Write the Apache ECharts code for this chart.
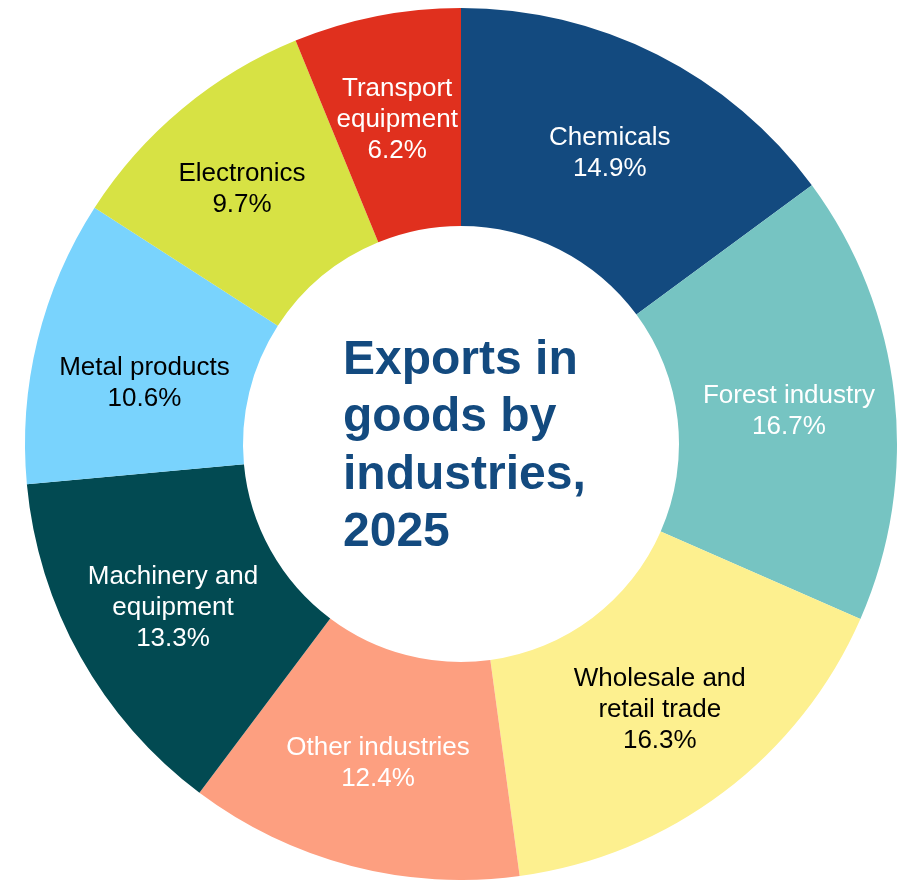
<!DOCTYPE html>
<html>
<head>
<meta charset="utf-8">
<script src="https://cdn.jsdelivr.net/npm/echarts@6/dist/echarts.min.js"></script>
<style>html,body{margin:0;padding:0;background:#fff;}#c{width:900px;height:880px;}</style>
</head>
<body>
<div id="c"></div>
<script>
const categories = ["Chemicals", "Forest industry", "Wholesale and\nretail trade", "Other industries", "Machinery and\nequipment", "Metal products", "Electronics", "Transport\nequipment"];
const values = [14.9, 16.7, 16.3, 12.4, 13.3, 10.6, 9.7, 6.2];
const colors = ["#134a7f", "#76c4c2", "#fdf08f", "#fd9f80", "#024a52", "#79d3fd", "#d7e244", "#e0301e"];
const labelColors = ["#ffffff", "#ffffff", "#000000", "#ffffff", "#ffffff", "#000000", "#000000", "#ffffff"];
const labelOffsets = [[0, 4], [0, 4], [0, 2], [0, 0], [0, 3], [4, 18], [-8, -1], [0, 0]];
const titleText = "Exports in\ngoods by\nindustries,\n2025";

const chart = echarts.init(document.getElementById('c'), null, {renderer: 'canvas'});
chart.setOption({
  animation: false,
  title: {
    text: titleText,
    left: 338,
    top: 327,
    textStyle: {fontFamily: 'Liberation Sans, Arial, sans-serif', fontSize: 48, fontWeight: 'bold', color: '#134a7f', lineHeight: 57.5}
  },
  series: [{
    type: 'pie',
    center: [461, 444],
    radius: [218, 436],
    startAngle: 90,
    clockwise: true,
    avoidLabelOverlap: false,
    itemStyle: {borderWidth: 0},
    label: {
      show: true,
      position: 'inside',
      formatter: p => p.name + '\n' + p.value.toFixed(1) + '%',
      fontFamily: 'Liberation Sans, Arial, sans-serif',
      fontSize: 26,
      lineHeight: 31,
      align: 'center'
    },
    labelLine: {show: false},
    emphasis: {disabled: true},
    data: categories.map((n, i) => ({
      name: n, value: values[i],
      itemStyle: {color: colors[i]},
      label: {color: labelColors[i], offset: labelOffsets[i]}
    }))
  }]
});
</script>
</body>
</html>
